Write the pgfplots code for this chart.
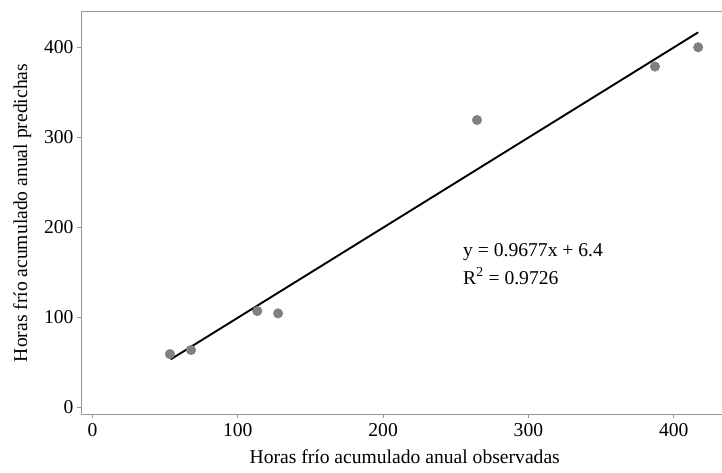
\documentclass[border=0pt]{standalone}
\usepackage{fontspec}
\setmainfont{Liberation Serif}
\usepackage{pgfplots}
\pgfplotsset{compat=1.18}
\definecolor{axgray}{RGB}{150,150,150}
\definecolor{ptgray}{RGB}{128,128,128}
\newcommand{\ff}{\fontsize{19.6}{22}\selectfont}
\begin{document}
\begin{tikzpicture}
\begin{axis}[
  scale only axis,
  width=641pt, height=402pt,
  at={(81pt,58pt)}, anchor=south west,
  xmin=-7.9, xmax=433.2,
  ymin=-7.4, ymax=439.2,
  axis x line*=box, axis y line*=left,
  axis line style={axgray, line width=1pt},
  xtick={0,100,200,300,400},
  ytick={0,100,200,300,400},
  xtick pos=bottom, ytick pos=left,
  tick align=outside,
  major tick length=4pt,
  tick style={axgray, line width=1pt},
  /pgf/number format/assume math mode=true,
  tick label style={font=\ff, black},
  xticklabel style={yshift=-2pt},
  label style={font=\ff},
  xlabel={Horas frío acumulado anual observadas},
  ylabel={Horas frío acumulado anual predichas},
  xlabel style={at={(axis description cs:0.505,-0.1219)}, anchor=base},
  ylabel style={at={(axis description cs:-0.0842,0.5)}, anchor=base, rotate=0},
  clip=false,
]
\addplot[only marks, mark=*, mark size=4.8pt, ptgray, mark options={draw=ptgray, fill=ptgray}] coordinates {
  (53.3,59.2) (67.8,63.7) (113.4,107.0) (127.7,104.4) (264.6,319.2) (387.1,378.6) (416.8,400.0)
};
\addplot[black, line width=1.9pt] coordinates {(53.8,53.3) (416.8,416.6)};
\node[anchor=base west, font=\ff, inner sep=0pt] at (axis cs:255,168) {y = 0.9677x + 6.4};
\node[anchor=base west, font=\ff, inner sep=0pt] at (axis cs:255,137) {R\textsuperscript{2} = 0.9726};
\end{axis}
\pgfresetboundingbox
\path[use as bounding box] (0,0) rectangle (722pt,472pt);
\end{tikzpicture}
\end{document}
